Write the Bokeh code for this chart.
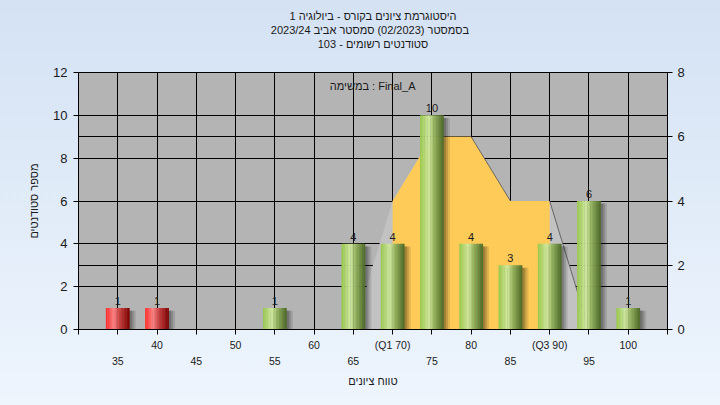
from bokeh.plotting import figure
from bokeh.models import Range1d, LinearAxis, FixedTicker, Grid, Label, ColumnDataSource, Title
from bokeh.core.properties import value
from bokeh.embed import file_html
from bokeh.resources import INLINE

# ---------------- data ----------------
title_lines = ["היסטוגרמת ציונים בקורס - ביולוגיה 1",
               "בסמסטר  (02/2023)  סמסטר אביב 2023/24",
               "סטודנטים רשומים - 103"]
grades = [35, 40, 55, 65, 70, 75, 80, 85, 90, 95, 100]
counts = [1, 1, 1, 4, 4, 10, 4, 3, 4, 6, 1]
bar_status = ["fail", "fail", "pass", "pass", "pass", "pass", "pass", "pass", "pass", "pass", "pass"]
dist_x = [65, 70, 75, 80, 85, 90, 95]
dist_y = [0, 4, 6, 6, 4, 4, 0]          # right axis units
q1, q3 = 70, 90
x_ticks = [30, 35, 40, 45, 50, 55, 60, 65, 70, 75, 80, 85, 90, 95, 100, 105]
row1_labels = {40: "40", 50: "50", 60: "60", 70: "(Q1 70)", 80: "80", 90: "(Q3 90)", 100: "100"}
row2_labels = {35: "35", 45: "45", 55: "55", 65: "65", 75: "75", 85: "85", 95: "95"}
left_ticks = [0, 2, 4, 6, 8, 10, 12]
right_ticks = [0, 2, 4, 6, 8]
task_label = "במשימה : Final_A"
x_title = "טווח ציונים"
y_title = "מספר סטודנטים"

FONT = "Liberation Sans"
TXT = "#1a1a1a"

p = figure(width=720, height=405, output_backend="svg", toolbar_location=None,
           x_range=Range1d(30, 105), y_range=Range1d(0, 12),
           min_border_left=78, min_border_right=53, min_border_top=72, min_border_bottom=76)
p.extra_y_ranges = {"right": Range1d(0, 8)}

p.border_fill_color = None
p.styles = {"background": "linear-gradient(to bottom, #d4e2f4, #eef5fd)"}
p.background_fill_color = "#b4b4b4"
p.outline_line_color = "black"
p.outline_line_width = 1

# title: spacer next to the plot, then three centred lines (last line closest to the plot)
p.title = None
p.add_layout(Title(text=" ", text_font=FONT, text_font_size="11px", standoff=9), "above")
for line in reversed(title_lines):
    p.add_layout(Title(text=line, align="center", text_font=FONT, text_font_size="11px",
                       text_font_style="normal", text_color=TXT, standoff=0, offset=1), "above")

# grids
p.xgrid.ticker = FixedTicker(ticks=x_ticks)
p.xgrid.grid_line_color = "black"
p.xgrid.grid_line_width = 1
p.ygrid.ticker = FixedTicker(ticks=left_ticks)
p.ygrid.grid_line_color = "black"
rgrid = Grid(dimension=1, ticker=FixedTicker(ticks=right_ticks), y_range_name="right",
             grid_line_color="black", grid_line_width=1)
p.add_layout(rgrid)

# x axes (two rows of labels)
xa = p.xaxis[0]
xa.ticker = FixedTicker(ticks=x_ticks)
xa.major_label_overrides = {t: row1_labels.get(t, "") for t in x_ticks}
xa.major_tick_out = 5
xa.major_tick_in = 0
xa.minor_tick_line_color = None
xa.axis_line_color = "black"
xa.major_tick_line_color = "black"
xa.major_label_standoff = 4
xa.major_label_text_font = FONT
xa.major_label_text_font_size = "10.5px"
xa.major_label_text_color = TXT

xa2 = LinearAxis(ticker=FixedTicker(ticks=list(row2_labels.keys())),
                 major_label_overrides=dict(row2_labels))
xa2.axis_line_color = None
xa2.major_tick_line_color = None
xa2.minor_tick_line_color = None
xa2.major_tick_out = 0
xa2.major_tick_in = 0
xa2.major_label_standoff = 3
xa2.major_label_text_font = FONT
xa2.major_label_text_font_size = "10.5px"
xa2.major_label_text_color = TXT
xa2.axis_label = x_title
xa2.axis_label_standoff = 7
xa2.axis_label_text_font = FONT
xa2.axis_label_text_font_size = "11px"
xa2.axis_label_text_font_style = "normal"
xa2.axis_label_text_color = TXT
p.add_layout(xa2, "below")

# left axis
ya = p.yaxis[0]
ya.ticker = FixedTicker(ticks=left_ticks)
ya.major_tick_out = 5
ya.major_tick_in = 0
ya.minor_tick_line_color = None
ya.major_label_standoff = 6
ya.major_label_text_font = FONT
ya.major_label_text_font_size = "13px"
ya.major_label_text_color = TXT
ya.axis_label = y_title
ya.axis_label_standoff = 10
ya.axis_label_text_font = FONT
ya.axis_label_text_font_size = "11px"
ya.axis_label_text_font_style = "normal"
ya.axis_label_text_color = TXT

# right axis
ra = LinearAxis(y_range_name="right", ticker=FixedTicker(ticks=right_ticks))
ra.major_tick_out = 5
ra.major_tick_in = 0
ra.minor_tick_line_color = None
ra.major_label_standoff = 5
ra.major_label_text_font = FONT
ra.major_label_text_font_size = "13px"
ra.major_label_text_color = TXT
p.add_layout(ra, "right")

# distribution area: full (light gray) then IQR (yellow)
gx = [dist_x[0]] + dist_x + [dist_x[-1]]
gy = [0] + dist_y + [0]
p.patch(gx, gy, y_range_name="right", fill_color="#c2c2c2", line_color=None)
iqr_x = [x for x in dist_x if q1 <= x <= q3]
iqr_y = [y for x, y in zip(dist_x, dist_y) if q1 <= x <= q3]
p.patch([q1] + iqr_x + [q3], [0] + iqr_y + [0], y_range_name="right",
        fill_color="#fecb58", line_color=None)
# dark edges on descending segments
for i in range(len(dist_x) - 1):
    if dist_y[i + 1] < dist_y[i]:
        p.line([dist_x[i], dist_x[i + 1]], [dist_y[i], dist_y[i + 1]], y_range_name="right",
               line_color="#505050", line_width=1, line_alpha=0.8)

# bar shadows
bw = 3.0
for off, a in [(0.8, 0.10), (0.55, 0.14), (0.3, 0.18)]:
    p.vbar(x=[g + off for g in grades], top=[c - 0.12 for c in counts], bottom=0,
           width=bw, fill_color="black", fill_alpha=a, line_color=None)

# bars as cylinder gradients
stops = {"pass": [(0.0, (150, 198, 74)), (0.38, (210, 234, 162)), (0.6, (150, 182, 96)), (1.0, (76, 104, 38))],
         "fail": [(0.0, (255, 36, 36)), (0.33, (255, 132, 132)), (0.6, (200, 60, 60)), (1.0, (124, 0, 0))]}


def color_at(kind, t):
    st = stops[kind]
    for (t0, c0), (t1, c1) in zip(st[:-1], st[1:]):
        if t0 <= t <= t1:
            f = (t - t0) / (t1 - t0)
            return "#%02x%02x%02x" % tuple(int(round(a + (b - a) * f)) for a, b in zip(c0, c1))
    return "#%02x%02x%02x" % st[-1][1]


N = 16
sx, stop_, sw, sc = [], [], [], []
for g, c, k in zip(grades, counts, bar_status):
    for i in range(N):
        t = (i + 0.5) / N
        sx.append(g - bw / 2 + t * bw)
        stop_.append(c)
        sw.append(bw / N * 1.15)
        sc.append(color_at(k, t))
src = ColumnDataSource(dict(x=sx, top=stop_, w=sw, c=sc))
p.vbar(x="x", top="top", bottom=0, width="w", fill_color="c", line_color=None, source=src)

# value labels
p.text(x=grades, y=counts, text=[str(c) for c in counts], text_align="center",
       text_baseline="alphabetic", y_offset=-7, text_font=value(FONT),
       text_font_size="11px", text_color=TXT)

# task annotation
p.add_layout(Label(x=62, y=11.35, text=task_label, text_align="left", text_baseline="middle",
                   text_font=FONT, text_font_size="11px", text_color=TXT))

open("out.html", "w").write(file_html(p, INLINE))
